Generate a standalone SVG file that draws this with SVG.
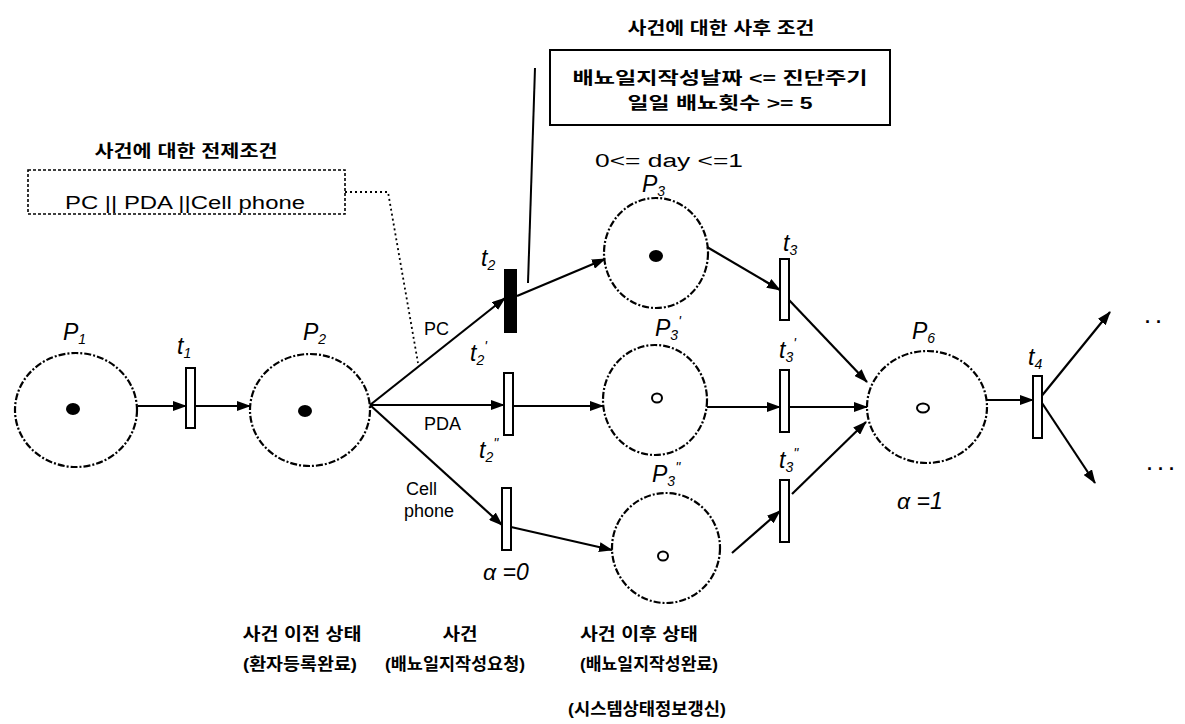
<svg xmlns="http://www.w3.org/2000/svg" width="1185" height="724" viewBox="0 0 1185 724">
<style>
  .place { fill: none; stroke: #000; stroke-width: 2.2; stroke-dasharray: 7 2 2 2; }
  .trans { fill: #fff; stroke: #000; stroke-width: 2; }
  .transB { fill: #000; stroke: #000; stroke-width: 2; }
  .tok { fill: #000; }
  .tokO { fill: none; stroke: #000; stroke-width: 2; }
  .arc { stroke: #000; stroke-width: 2.2; fill: none; marker-end: url(#ah); }
  .lbl { font-family: "Liberation Sans", Arial, sans-serif; font-style: italic; font-size: 23px; fill: #000; }
  .sub { font-size: 14px; }
  .en { font-family: "Liberation Sans", Arial, sans-serif; font-size: 18px; fill: #000; }
  .ko { font-family: "Liberation Sans", "Noto Sans CJK KR", sans-serif; font-weight: bold; font-size: 17px; fill: #000; }
</style>
<defs>
  <marker id="ah" markerUnits="userSpaceOnUse" markerWidth="14" markerHeight="10" refX="13" refY="5" orient="auto">
    <path d="M0,0 L14,5 L0,10 Z" fill="#000"/>
  </marker>
</defs>
<rect width="1185" height="724" fill="#fff"/>

<!-- connectors -->
<g id="connectors">
  <line class="arc" x1="138" y1="406" x2="186" y2="406"/>
  <line class="arc" x1="195" y1="406" x2="250" y2="406"/>
  <line class="arc" x1="370" y1="405" x2="505" y2="298"/>
  <line class="arc" x1="370" y1="405" x2="504" y2="405"/>
  <line class="arc" x1="370" y1="405" x2="502" y2="525"/>
  <line class="arc" x1="517" y1="296" x2="605" y2="259"/>
  <line class="arc" x1="513" y1="406" x2="603" y2="406"/>
  <line class="arc" x1="511" y1="527" x2="612" y2="550"/>
  <line class="arc" x1="707" y1="247" x2="780" y2="290"/>
  <line class="arc" x1="707" y1="407" x2="780" y2="407"/>
  <line class="arc" x1="732" y1="553" x2="780" y2="511"/>
  <line class="arc" x1="789" y1="300" x2="867" y2="382"/>
  <line class="arc" x1="790" y1="407" x2="867" y2="407"/>
  <line class="arc" x1="792" y1="494" x2="866" y2="422"/>
  <line class="arc" x1="987" y1="400" x2="1033" y2="400"/>
  <line class="arc" x1="1040" y1="398" x2="1110" y2="312"/>
  <line class="arc" x1="1040" y1="400" x2="1095" y2="483"/>
</g>

<!-- places -->
<g id="P1">
  <ellipse class="place" cx="76" cy="410" rx="61" ry="57"/>
  <ellipse class="tok" cx="73" cy="409" rx="7" ry="6"/>
  <text class="lbl" x="63" y="340">P<tspan class="sub" dy="4">1</tspan></text>
</g>
<g id="P2">
  <ellipse class="place" cx="310" cy="410" rx="60" ry="56"/>
  <ellipse class="tok" cx="305" cy="411" rx="7" ry="6"/>
  <text class="lbl" x="303" y="340">P<tspan class="sub" dy="4">2</tspan></text>
</g>
<g id="P3">
  <ellipse class="place" cx="656" cy="253" rx="52" ry="55"/>
  <ellipse class="tok" cx="656" cy="256" rx="7" ry="6"/>
  <text class="lbl" x="642" y="192">P<tspan class="sub" dy="4">3</tspan></text>
</g>
<g id="P3p">
  <ellipse class="place" cx="655" cy="400" rx="52" ry="55"/>
  <ellipse class="tokO" cx="657" cy="398" rx="5" ry="4.5"/>
  <text class="lbl" x="655" y="336">P<tspan class="sub" dy="4">3</tspan><tspan class="sub" dy="-14">'</tspan></text>
</g>
<g id="P3pp">
  <ellipse class="place" cx="666" cy="548" rx="54" ry="55"/>
  <ellipse class="tokO" cx="663" cy="556" rx="5" ry="4.5"/>
  <text class="lbl" x="652" y="482">P<tspan class="sub" dy="4">3</tspan><tspan class="sub" dy="-14">''</tspan></text>
</g>
<g id="P6">
  <ellipse class="place" cx="927" cy="407" rx="60" ry="56"/>
  <ellipse class="tokO" cx="923" cy="408" rx="6" ry="4.5"/>
  <text class="lbl" x="912" y="339">P<tspan class="sub" dy="4">6</tspan></text>
</g>

<!-- transitions -->
<g id="t1">
  <rect class="trans" x="186" y="368" width="9" height="60"/>
  <text class="lbl" x="177" y="354">t<tspan class="sub" dy="4">1</tspan></text>
</g>
<g id="t2">
  <rect class="transB" x="505" y="270" width="11" height="62"/>
  <text class="lbl" x="481" y="266">t<tspan class="sub" dy="4">2</tspan></text>
</g>
<g id="t2p">
  <rect class="trans" x="504" y="373" width="9" height="62"/>
  <text class="lbl" x="470" y="361">t<tspan class="sub" dy="4">2</tspan><tspan class="sub" dy="-14">'</tspan></text>
</g>
<g id="t2pp">
  <rect class="trans" x="502" y="488" width="9" height="62"/>
  <text class="lbl" x="479" y="458">t<tspan class="sub" dy="4">2</tspan><tspan class="sub" dy="-14">''</tspan></text>
</g>
<g id="t3">
  <rect class="trans" x="780" y="259" width="9" height="61"/>
  <text class="lbl" x="783" y="251">t<tspan class="sub" dy="4">3</tspan></text>
</g>
<g id="t3p">
  <rect class="trans" x="780" y="370" width="9" height="62"/>
  <text class="lbl" x="779" y="358">t<tspan class="sub" dy="4">3</tspan><tspan class="sub" dy="-14">'</tspan></text>
</g>
<g id="t3pp">
  <rect class="trans" x="780" y="480" width="9" height="62"/>
  <text class="lbl" x="779" y="468">t<tspan class="sub" dy="4">3</tspan><tspan class="sub" dy="-14">''</tspan></text>
</g>
<g id="t4">
  <rect class="trans" x="1033" y="376" width="9" height="62"/>
  <text class="lbl" x="1028" y="365">t<tspan class="sub" dy="4">4</tspan></text>
</g>

<!-- arc labels -->
<g id="arc-labels">
  <text class="en" x="424" y="335">PC</text>
  <text class="en" x="424" y="430">PDA</text>
  <text class="en" x="406" y="495">Cell</text>
  <text class="en" x="404" y="517">phone</text>
  <text class="lbl" x="483" y="580" font-size="21">α =0</text>
  <text class="lbl" x="897" y="509" font-size="21">α =1</text>
  <text class="en" x="1145" y="328" font-size="20" font-weight="bold">· ·</text>
  <text class="en" x="1147" y="475" font-size="20" font-weight="bold">· · ·</text>
</g>

<!-- precondition -->
<g id="precondition">
  <text class="ko" x="186" y="157" text-anchor="middle" textLength="183" lengthAdjust="spacingAndGlyphs">사건에 대한 전제조건</text>
  <rect x="28" y="170" width="317" height="44" fill="none" stroke="#000" stroke-width="1.6" stroke-dasharray="3 2"/>
  <text class="en" x="185" y="209" font-size="20" text-anchor="middle" textLength="240" lengthAdjust="spacingAndGlyphs">PC || PDA ||Cell phone</text>
  <polyline points="345,192 388,192 418,363" fill="none" stroke="#000" stroke-width="1.8" stroke-dasharray="2 3"/>
</g>

<!-- postcondition -->
<g id="postcondition">
  <text class="ko" x="721" y="34" font-size="16" text-anchor="middle" textLength="187" lengthAdjust="spacingAndGlyphs">사건에 대한 사후 조건</text>
  <rect x="550" y="50" width="340" height="75" fill="none" stroke="#000" stroke-width="2"/>
  <text class="ko" x="720" y="84" font-size="20" text-anchor="middle" textLength="295" lengthAdjust="spacingAndGlyphs">배뇨일지작성날짜 &lt;= 진단주기</text>
  <text class="ko" x="720" y="109" font-size="20" text-anchor="middle" textLength="185" lengthAdjust="spacingAndGlyphs">일일 배뇨횟수 &gt;= 5</text>
  <text class="en" x="595" y="167" font-size="21" textLength="148" lengthAdjust="spacingAndGlyphs">0&lt;= day &lt;=1</text>
  <line x1="528" y1="283" x2="535" y2="68" stroke="#000" stroke-width="2"/>
</g>

<!-- bottom captions -->
<g id="captions">
  <text class="ko" x="302" y="640" font-size="18" text-anchor="middle" textLength="119" lengthAdjust="spacingAndGlyphs">사건 이전 상태</text>
  <text class="ko" x="300" y="670" text-anchor="middle" textLength="114" lengthAdjust="spacingAndGlyphs">(환자등록완료)</text>
  <text class="ko" x="460" y="640" font-size="18" text-anchor="middle" textLength="35" lengthAdjust="spacingAndGlyphs">사건</text>
  <text class="ko" x="455" y="670" text-anchor="middle" textLength="140" lengthAdjust="spacingAndGlyphs">(배뇨일지작성요청)</text>
  <text class="ko" x="639" y="640" font-size="18" text-anchor="middle" textLength="118" lengthAdjust="spacingAndGlyphs">사건 이후 상태</text>
  <text class="ko" x="649" y="670" text-anchor="middle" textLength="138" lengthAdjust="spacingAndGlyphs">(배뇨일지작성완료)</text>
  <text class="ko" x="647" y="715" text-anchor="middle" textLength="158" lengthAdjust="spacingAndGlyphs">(시스템상태정보갱신)</text>
</g>
</svg>
